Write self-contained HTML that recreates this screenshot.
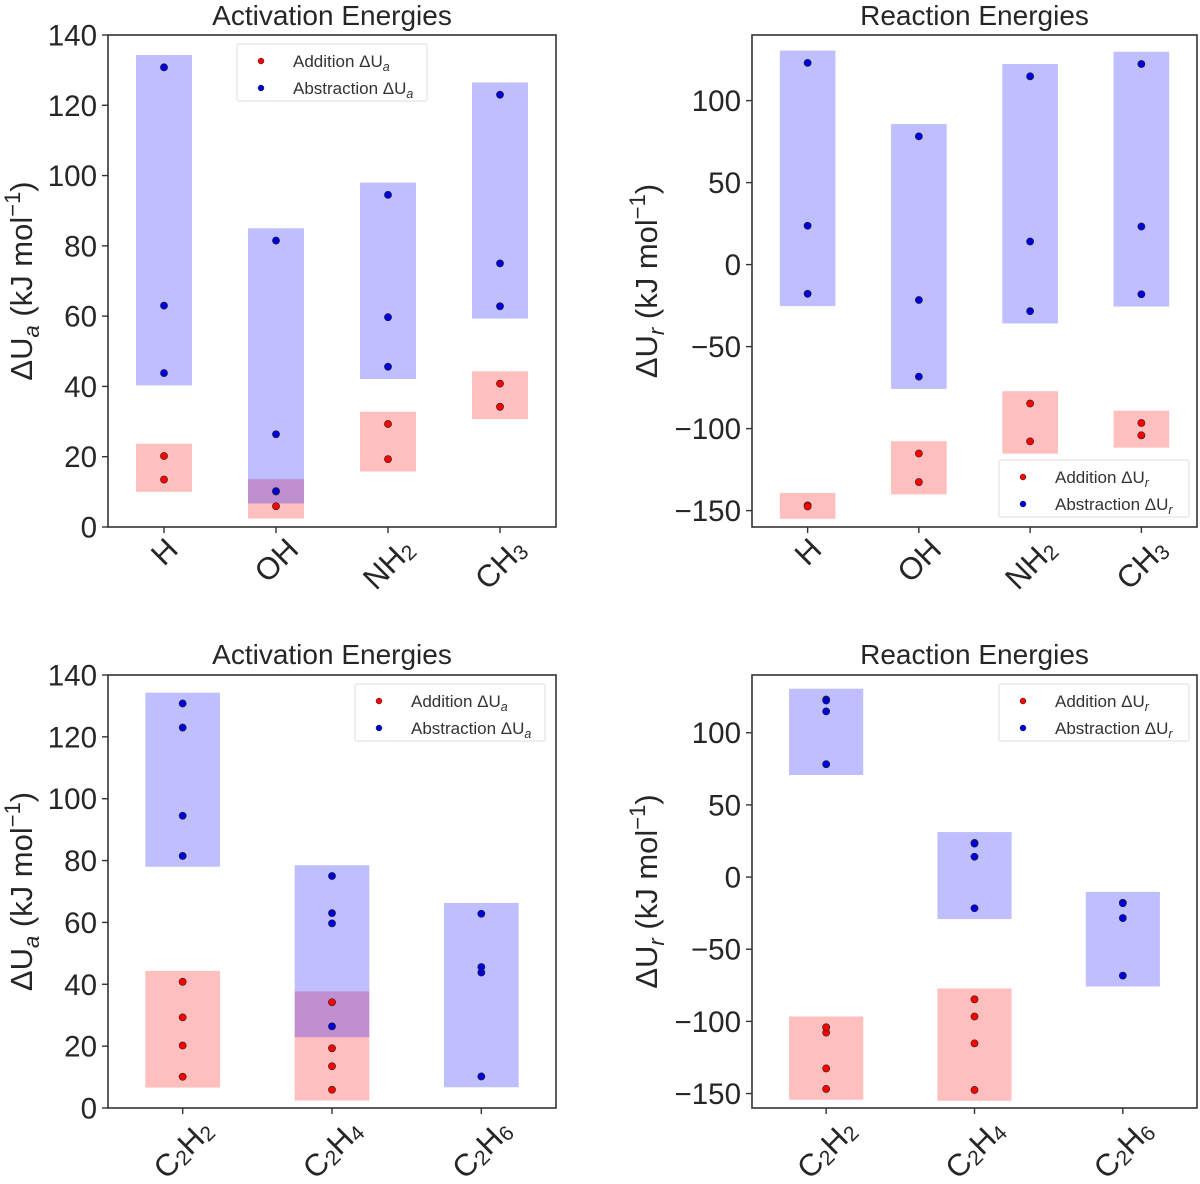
<!DOCTYPE html>
<html><head><meta charset="utf-8"><style>
html,body{margin:0;padding:0;background:#fff;}
svg{display:block;font-family:"Liberation Sans","DejaVu Sans",sans-serif;}
</style></head><body>
<svg id="fig" width="1200" height="1184" viewBox="0 0 1200 1184" xmlns="http://www.w3.org/2000/svg"></svg>
<script>
// ---- data (kJ/mol) ----
const radicals = ["H","OH","NH2","CH3"];
const molecules = ["C2H2","C2H4","C2H6"];
// activation energies per radical: additions to [C2H2, C2H4]
const actAdd = [[20.2,13.5],[10.1,5.9],[29.3,19.3],[40.8,34.2]];
// activation energies per radical: abstractions from [C2H2, C2H4, C2H6]
const actAbs = [[130.8,63.0,43.8],[81.5,26.4,10.2],[94.5,59.7,45.6],[123.0,75.0,62.8]];
// reaction energies per radical: additions to [C2H2, C2H4]
const rxnAdd = [[-146.8,-147.5],[-132.6,-115.2],[-107.8,-84.7],[-104.1,-96.6]];
// reaction energies per radical: abstractions from [C2H2, C2H4, C2H6]
const rxnAbs = [[123.0,23.7,-17.8],[78.2,-21.6,-68.3],[114.8,14.1,-28.4],[122.3,23.2,-18.1]];
const actTicks = [0,20,40,60,80,100,120,140];
const rxnTicks = [-150,-100,-50,0,50,100];
const actDomain = [0,140];
const rxnDomain = [-160,140];

const NS="http://www.w3.org/2000/svg";
const svg=document.getElementById('fig');
function el(tag,attrs,parent){const e=document.createElementNS(NS,tag);for(const k in attrs)e.setAttribute(k,attrs[k]);(parent||svg).appendChild(e);return e;}
function transpose(arr,n){const out=[];for(let j=0;j<n;j++){out.push(arr.map(r=>r[j]).filter(v=>v!==undefined));}return out;}
function labelParts(t){const parts=[];for(const ch of t){parts.push([ch,/[0-9]/.test(ch)]);}return parts;}

function panel(cfg){
  const g=el('g',{});
  
  
  const [x0,x1,y0,y1]=cfg.box;
  const n=cfg.cats.length;
  const bw=(x1-x0)/n;
  const xs=i=>x0+bw*(i+0.5);
  const ys=v=>y1-(v-cfg.domain[0])/(cfg.domain[1]-cfg.domain[0])*(y1-y0);
  const pad=0.025*(cfg.domain[1]-cfg.domain[0]);
  const drawBar=(vals,i,color,nm)=>{
    if(!vals.length)return;
    const lo=Math.min(...vals)-pad, hi=Math.max(...vals)+pad;
    const r=el('rect',{x:xs(i)-bw/4,y:ys(hi),width:bw/2,height:ys(lo)-ys(hi),fill:color,'fill-opacity':0.25},g);
    
    
  };
  cfg.add.forEach((v,i)=>drawBar(v,i,'#ff0000','addition-range-'+cfg.cats[i]));
  cfg.abs.forEach((v,i)=>drawBar(v,i,'#0000ff','abstraction-range-'+cfg.cats[i]));
  const drawPts=(vals,i,color,nm)=>{vals.forEach(v=>{
    const c=el('circle',{cx:xs(i),cy:ys(v),r:3.6,fill:color,stroke:'#222',"stroke-width":0.6},g);
    
    
  });};
  cfg.add.forEach((v,i)=>drawPts(v,i,'#ff0000','addition-point'));
  cfg.abs.forEach((v,i)=>drawPts(v,i,'#0000dd','abstraction-point'));
  const fr=el('rect',{x:x0,y:y0,width:x1-x0,height:y1-y0,fill:'none',stroke:'#333',"stroke-width":1.6},g);
  
  
  cfg.ticks.forEach(t=>{
    el('line',{x1:x0-6,x2:x0,y1:ys(t),y2:ys(t),stroke:'#333',"stroke-width":1.4},g);
    const tx=el('text',{x:x0-11,y:ys(t)+10.5,'text-anchor':'end','font-size':29.5,fill:'#262626'},g);
    tx.textContent=(t<0?'\u2212'+Math.abs(t):String(t));
    
    
  });
  cfg.cats.forEach((c,i)=>{
    el('line',{x1:xs(i),x2:xs(i),y1:y1,y2:y1+6,stroke:'#333',"stroke-width":1.4},g);
    const tg=el('g',{},g);
    const tx=el('text',{x:0,y:0,'text-anchor':'middle','dominant-baseline':'central','font-size':31,fill:'#262626'},tg);
    
    
    let prevSub=false;
    labelParts(c).forEach(([ch,sub])=>{
      const s=el('tspan',{},tx);
      if(sub){s.setAttribute('font-size',21);s.setAttribute('dy',7);}
      else if(prevSub){s.setAttribute('dy',-7);}
      prevSub=sub;
      s.textContent=ch;
    });
    let w=tx.getComputedTextLength?tx.getComputedTextLength():c.length*17;
    const h=24;
    const cy=y1+8+(w+h)/2.828;
    tg.setAttribute('transform',`translate(${xs(i)},${cy}) rotate(-45)`);
  });
  const ti=el('text',{x:(x0+x1)/2,y:cfg.titleY,'text-anchor':'middle','font-size':28,fill:'#262626'},g);
  ti.textContent=cfg.title;
  
  
  const yt=el('text',{x:0,y:0,'text-anchor':'middle','font-size':31,fill:'#262626',transform:`translate(${cfg.ylabX},${(y0+y1)/2}) rotate(-90)`},g);
  
  
  yt.innerHTML=`ΔU<tspan font-size="22" font-style="italic" dy="7">${cfg.sub}</tspan><tspan dy="-7"> (kJ mol</tspan><tspan font-size="22" dy="-12">\u22121</tspan><tspan dy="12">)</tspan>`;
  const [lx,ly]=cfg.legend;
  const lg=el('g',{},g);
  
  
  el('rect',{x:lx,y:ly,width:190,height:57,fill:'#fff','fill-opacity':0.8,stroke:'#ddd',"stroke-width":1,rx:2},lg);
  [['Addition','#ff0000',17],['Abstraction','#0000dd',44]].forEach(([name,col,dy])=>{
    const c=el('circle',{cx:lx+24,cy:ly+dy,r:3,fill:col,stroke:'#222',"stroke-width":0.5},lg);
    
    
    const t=el('text',{x:lx+56,y:ly+dy+6,'font-size':17,fill:'#333'},lg);
    
    
    t.innerHTML=`${name} ΔU<tspan font-size="12.5" font-style="italic" dy="4">${cfg.sub}</tspan>`;
  });
}

panel({name:'activation-by-radical',box:[108,556,35,527],cats:radicals,add:actAdd,abs:actAbs,domain:actDomain,ticks:actTicks,title:'Activation Energies',titleY:25,ylabX:32,sub:'a',legend:[237,44]});
panel({name:'reaction-by-radical',box:[752,1197,35,527],cats:radicals,add:rxnAdd,abs:rxnAbs,domain:rxnDomain,ticks:rxnTicks,title:'Reaction Energies',titleY:25,ylabX:657,sub:'r',legend:[999,460]});
panel({name:'activation-by-molecule',box:[108,556,675,1108],cats:molecules,add:transpose(actAdd,3),abs:transpose(actAbs,3),domain:actDomain,ticks:actTicks,title:'Activation Energies',titleY:664,ylabX:32,sub:'a',legend:[355,684]});
panel({name:'reaction-by-molecule',box:[752,1197,675,1108],cats:molecules,add:transpose(rxnAdd,3),abs:transpose(rxnAbs,3),domain:rxnDomain,ticks:rxnTicks,title:'Reaction Energies',titleY:664,ylabX:657,sub:'r',legend:[999,684]});
</script>
</body></html>
